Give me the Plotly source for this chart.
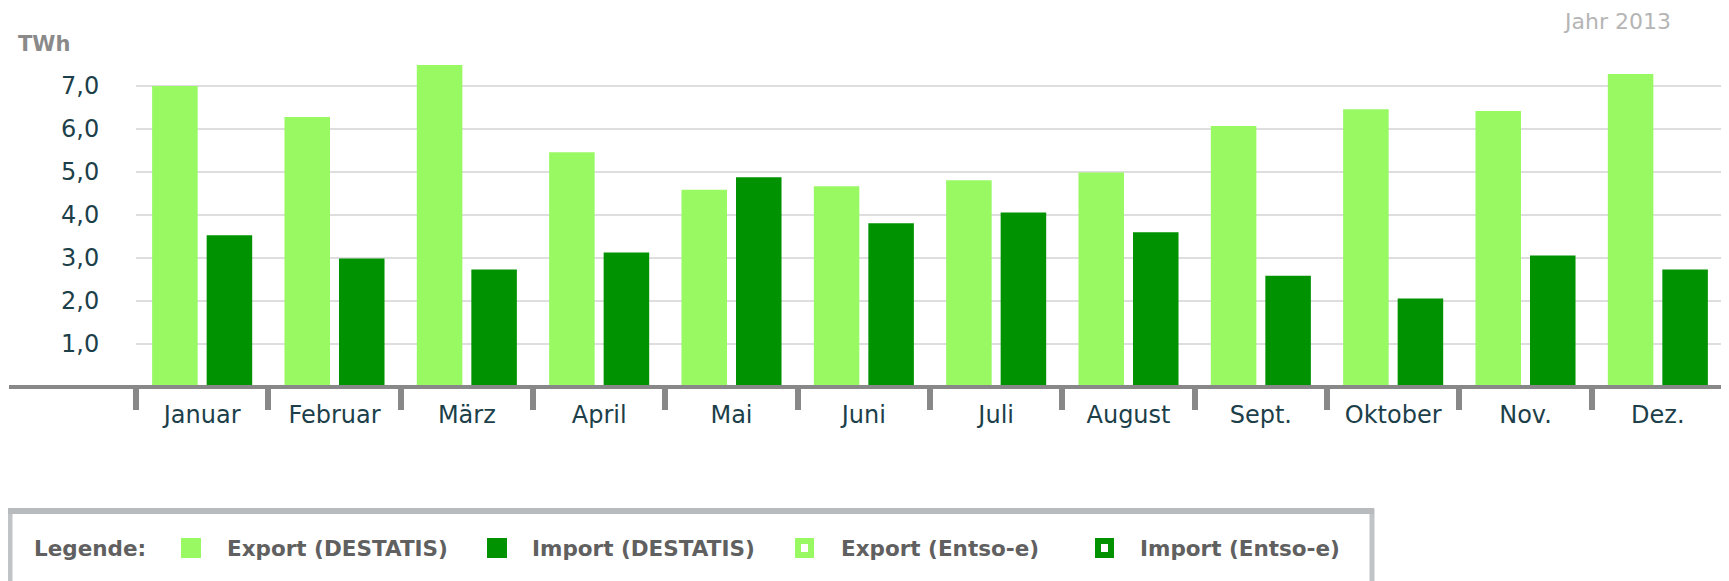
import plotly.graph_objects as go

# ---------------- data ----------------
months = ["Januar", "Februar", "März", "April", "Mai", "Juni", "Juli",
          "August", "Sept.", "Oktober", "Nov.", "Dez."]
export_destatis = [7.00, 6.28, 7.49, 5.46, 4.59, 4.67, 4.81, 4.99, 6.07, 6.46, 6.42, 7.28]
import_destatis = [3.53, 2.99, 2.73, 3.13, 4.88, 3.81, 4.06, 3.60, 2.59, 2.06, 3.06, 2.73]
y_tickvals = [1, 2, 3, 4, 5, 6, 7, 8]
y_ticktext = ["1,0", "2,0", "3,0", "4,0", "5,0", "6,0", "7,0", ""]
legend_names = ["Export (DESTATIS)", "Import (DESTATIS)", "Export (Entso-e)", "Import (Entso-e)"]
unit_label = "TWh"
year_label = "Jahr 2013"
legend_title = "Legende:"

# ---------------- styles ----------------
LIGHT = "#98f963"
DARK = "#009200"
TEXT = "#1c3f4a"
FONT = "DejaVu Sans"

# page body has an 8px default margin -> compensate
OFF = 8
PAGE_W, PAGE_H = 1729, 581
W, H = PAGE_W - OFF, PAGE_H - OFF
# page-pixel geometry of the plot area
PLOT_L, PLOT_R, PLOT_T, PLOT_B = 136, 1724, 43, 387
L = PLOT_L - OFF
R = W - (PLOT_R - OFF)
T = PLOT_T - OFF
B = H - (PLOT_B - OFF)
PW = W - L - R
PH = H - T - B


def px(x):
    """page x pixel -> paper coordinate"""
    return (x - OFF - L) / PW


def py(y):
    """page y pixel -> paper coordinate"""
    return (H - B - (y - OFF)) / PH


fig = go.Figure()
fig.add_trace(go.Bar(x=months, y=export_destatis, name=legend_names[0],
                     marker=dict(color=LIGHT, line=dict(width=0))))
fig.add_trace(go.Bar(x=months, y=import_destatis, name=legend_names[1],
                     marker=dict(color=DARK, line=dict(width=0))))

n = len(months)
boundaries = [i - 0.5 for i in range(n + 1)]

fig.update_layout(
    width=W, height=H,
    margin=dict(l=L, r=R, t=T, b=B, autoexpand=False),
    paper_bgcolor="white", plot_bgcolor="white",
    barmode="group", bargap=0.176, bargroupgap=0.165,
    showlegend=False,
    font=dict(family=FONT, color=TEXT),
    xaxis=dict(
        type="category", categoryarray=months, range=[-0.5, n - 0.5],
        showline=False, showgrid=False, zeroline=False,
        ticks="", ticklabelstandoff=11,
        tickfont=dict(size=24, color=TEXT, family=FONT),
        automargin=False, fixedrange=True,
    ),
    xaxis2=dict(
        overlaying="x", anchor="y", side="bottom", range=[-0.5, n - 0.5],
        tickmode="array", tickvals=boundaries, showticklabels=False,
        ticks="outside", ticklen=22, tickwidth=6, tickcolor="#888888",
        showgrid=False, showline=False, zeroline=False, automargin=False,
        fixedrange=True,
    ),
    yaxis=dict(
        range=[0, 8], tickmode="array", tickvals=y_tickvals, ticktext=y_ticktext,
        showgrid=True, gridcolor="#dedede", gridwidth=1.5,
        zeroline=False, showline=False,
        ticks="outside", ticklen=31, tickcolor="rgba(0,0,0,0)",
        tickfont=dict(size=24, color=TEXT, family=FONT),
        automargin=False, fixedrange=True,
    ),
)

# invisible helper so the boundary-tick axis is drawn
fig.add_trace(go.Scatter(x=[boundaries[0], boundaries[-1]], y=[0, 0], xaxis="x2",
                         mode="lines", line=dict(width=0), hoverinfo="skip",
                         showlegend=False))

shapes = []
# baseline (extends to the left of plot area)
shapes.append(dict(type="line", xref="paper", yref="paper", x0=px(9), x1=1, y0=0, y1=0,
                   line=dict(color="#888888", width=4), layer="above"))

# legend box
shapes.append(dict(type="rect", xref="paper", yref="paper",
                   x0=px(10), x1=px(1372), y0=py(511), y1=py(600),
                   line=dict(color="#c0c4c7", width=5), fillcolor="rgba(0,0,0,0)"))
shapes.append(dict(type="line", xref="paper", yref="paper",
                   x0=px(8), x1=px(1374), y0=py(511), y1=py(511),
                   line=dict(color="#b7bbbe", width=6)))

annotations = []
annotations.append(dict(text="<b>%s</b>" % unit_label, xref="paper", yref="paper",
                        x=px(16), y=py(43.5), xanchor="left", yanchor="middle",
                        showarrow=False, font=dict(size=21, color="#8a8a8a", family=FONT)))
# year label: box top aligned with the top edge of the figure so it is not clipped
annotations.append(dict(text=year_label, xref="paper", yref="paper",
                        x=px(1562), y=py(OFF), xanchor="left", yanchor="top",
                        borderpad=0,
                        showarrow=False, font=dict(size=22, color="#b5b5b5", family=FONT)))

leg_y = 548
leg_font = dict(size=21.5, color="#606060", family=FONT)
annotations.append(dict(text="<b>%s</b>" % legend_title, xref="paper", yref="paper",
                        x=px(32), y=py(leg_y), xanchor="left", yanchor="middle",
                        showarrow=False, font=leg_font))

# legend swatches: (left px, text left px, color, outlined)
leg_items = [
    (181, 225, LIGHT, False),
    (487, 530, DARK, False),
    (795, 839, LIGHT, True),
    (1095, 1138, DARK, True),
]
for (sx, tx, col, outlined), name in zip(leg_items, legend_names):
    if outlined:
        shapes.append(dict(type="rect", xref="paper", yref="paper",
                           x0=px(sx + 3), x1=px(sx + 16), y0=py(leg_y - 7), y1=py(leg_y + 7),
                           line=dict(color=col, width=6), fillcolor="white"))
    else:
        shapes.append(dict(type="rect", xref="paper", yref="paper",
                           x0=px(sx), x1=px(sx + 20), y0=py(leg_y - 10), y1=py(leg_y + 10),
                           line=dict(width=0), fillcolor=col))
    annotations.append(dict(text="<b>%s</b>" % name, xref="paper", yref="paper",
                            x=px(tx), y=py(leg_y), xanchor="left", yanchor="middle",
                            showarrow=False, font=leg_font))

fig.update_layout(shapes=shapes, annotations=annotations)

fig.write_html("out.html", config={"displayModeBar": False})
